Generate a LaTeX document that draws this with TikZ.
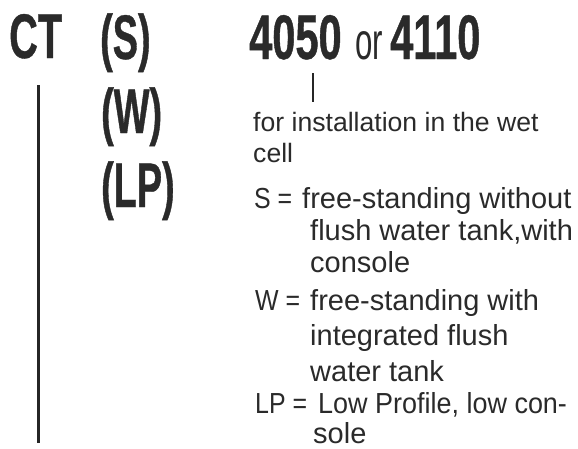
\documentclass[tikz,border=0pt]{standalone}
\usepackage{fontspec}
\setmainfont{Liberation Sans}
\newfontfamily\condbold[FakeStretch=0.6,FakeBold=0.6]{Liberation Sans Bold}
\newfontfamily\condreg[FakeStretch=0.6]{Liberation Sans}
\definecolor{ink}{HTML}{2A2A2A}
\begin{document}
\begin{tikzpicture}[x=1pt,y=-1pt,
  big/.style={inner sep=0pt,anchor=base west,text=ink,font=\condbold\fontsize{63}{63}\selectfont},
  orword/.style={inner sep=0pt,anchor=base west,text=ink,font=\condreg\fontsize{52}{52}\selectfont},
  small/.style={inner sep=0pt,anchor=base west,text=ink,font=\fontsize{29}{29}\selectfont},
  smaller/.style={inner sep=0pt,anchor=base west,text=ink,font=\fontsize{26.6}{26.6}\selectfont},
  rule/.style={draw=black!85,line width=2.2pt}]
\useasboundingbox (0,0) rectangle (578,448);
% big codes
\node[big] (ct) at (9,58) {\scalebox{1.05}[1]{CT}};
\node[big] (s) at (100,59) {(S)};
\node[big] (w) at (101,133) {(W)};
\node[big] (lp) at (101,207) {(LP)};
\node[big] (n4050) at (249,59) {\scalebox{1.1}[1]{4050}};
\node[orword] (or) at (355,59) {or};
\node[big] (n4110) at (390,59) {\scalebox{1.1}[1]{4110}};
% descriptions
\node[smaller] (inst1) at (253,131) {for installation in the wet};
\node[smaller] (inst2) at (253,162) {cell};
\node[small] (seq) at (254,208) {\scalebox{0.86}[1]{S =}};
\node[small] (s1) at (302,208) {free-standing without};
\node[small] (s2) at (310,240) {flush water tank,with};
\node[small] (s3) at (310,272) {console};
\node[small] (weq) at (255,310) {\scalebox{0.86}[1]{W =}};
\node[small] (w1) at (310,310) {free-standing with};
\node[small] (w2) at (310,345) {integrated flush};
\node[small] (w3) at (310,381) {water tank};
\node[small] (lpeq) at (255,413) {\scalebox{0.86}[1]{LP =}};
\node[small] (lp1) at (318,413) {\scalebox{0.93}[1]{Low Profile, low con-}};
\node[small] (lp2) at (313,443) {sole};
% rules
\coordinate (ltop) at (38.5,85);
\coordinate (lbot) at (38.5,443);
\draw[rule] (ltop) -- (lbot);
\coordinate (stop) at (313,73);
\coordinate (sbot) at (313,102);
\draw[rule,line width=1.6pt] (stop) -- (sbot);
\end{tikzpicture}
\end{document}
